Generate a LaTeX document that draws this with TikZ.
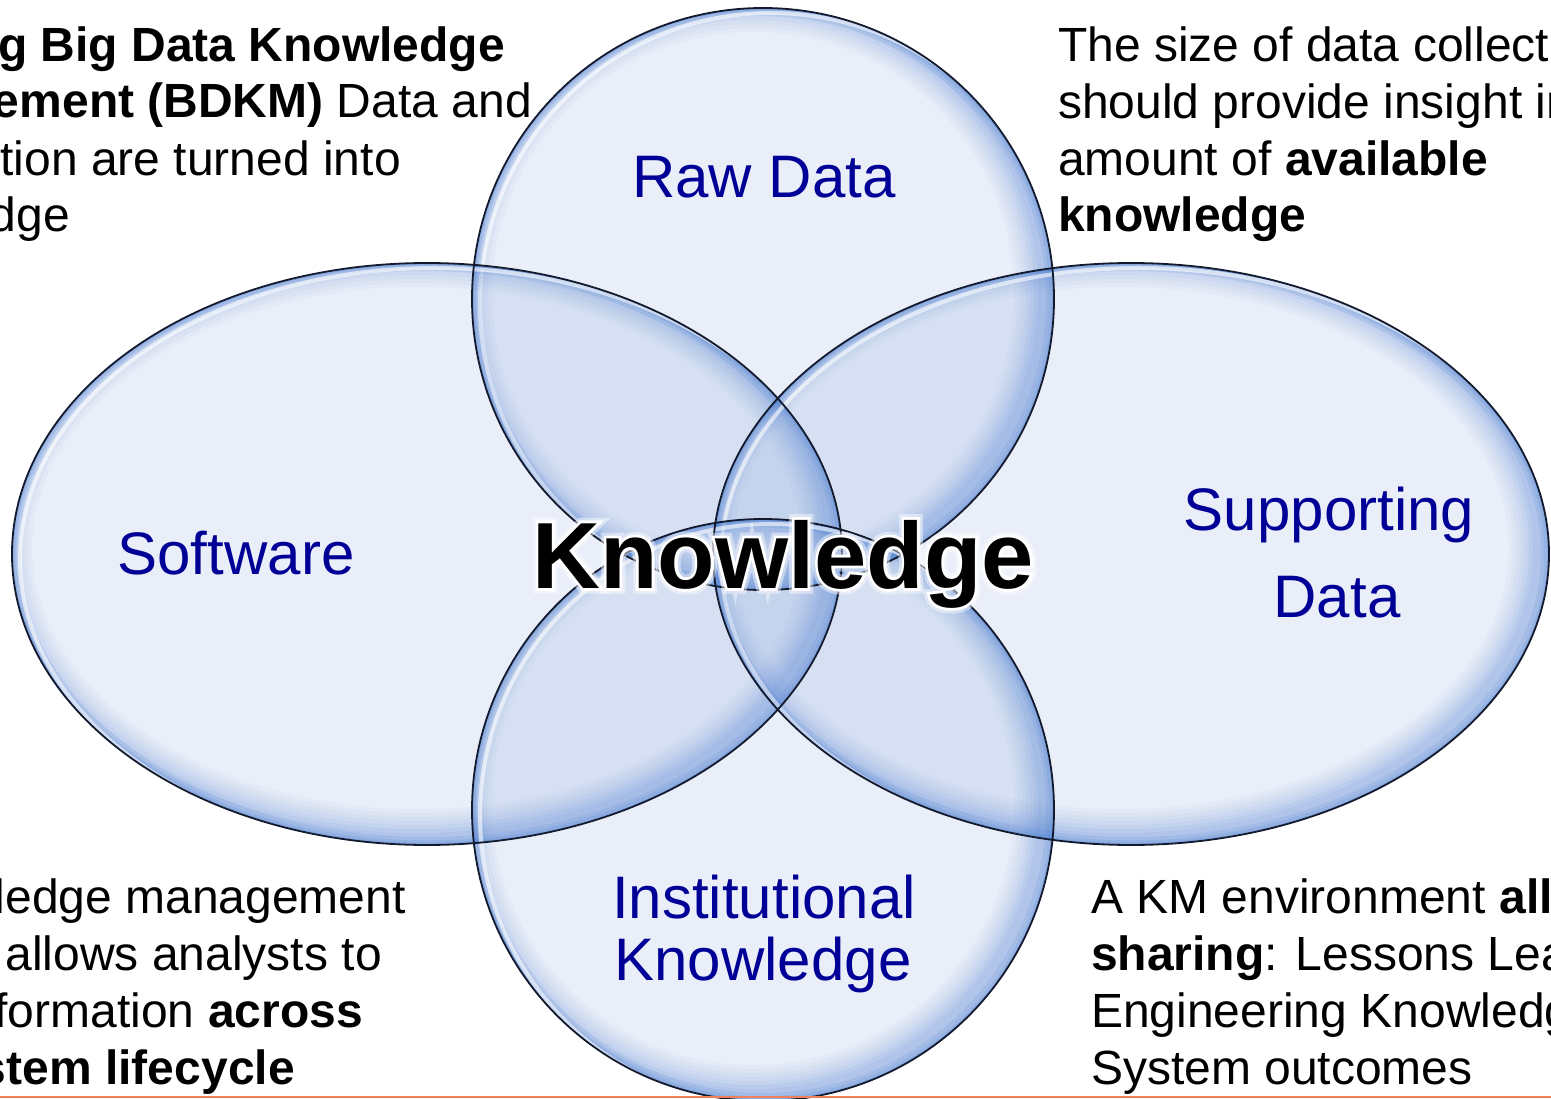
\documentclass[tikz,border=0pt]{standalone}
\usepackage{fontspec}
\setmainfont{Liberation Sans}
\newfontfamily\halofont[FakeBold=6]{Liberation Sans Bold}
\newfontfamily\halofontwide[FakeBold=12]{Liberation Sans Bold}
\definecolor{lblblue}{RGB}{0,0,150}
\definecolor{vennbase}{RGB}{100,140,212}
\definecolor{rimblue}{RGB}{65,120,210}
\definecolor{vennline}{RGB}{20,26,45}
\definecolor{orangeline}{RGB}{240,128,90}
\tikzset{
  vennstroke/.style={draw=vennline, line width=1.8pt},
  lbl/.style={text=lblblue, font=\fontsize{60}{72}\selectfont, inner sep=0pt},
  note/.style={text=black, font=\fontsize{48}{57.5}\selectfont, inner sep=0pt},
  bigword/.style={font=\fontsize{94}{110}\bfseries\selectfont, inner sep=0pt, anchor=base},
}
\newcommand\vennfill[1]{%
  \fill[vennbase, fill opacity=0.14] #1;
  \begin{scope}
    \clip #1;
    \foreach \w/\o in {60/0.035,52/0.04,44/0.045,36/0.05,28/0.06,20/0.07,12/0.08}{
      \draw[rimblue, line width=\w pt, opacity=\o, xshift=-10pt, yshift=6pt] #1;
    }
    \draw[rimblue, line width=16pt, opacity=0.12] #1;
    \draw[rimblue, line width=9pt, opacity=0.16] #1;
    \draw[rimblue, line width=4pt, opacity=0.2] #1;
    \draw[white, line width=4pt, opacity=0.6, xshift=8pt, yshift=-5pt] #1;
  \end{scope}}
\begin{document}
\begin{tikzpicture}[x=1pt,y=-1pt]
\useasboundingbox (0,0) rectangle (1551,1099);
\clip (0,0) rectangle (1551,1099);
\fill[white] (0,0) rectangle (1551,1099);
% fills
\vennfill{(763,299) ellipse [x radius=291pt, y radius=291pt]}
\vennfill{(427,554) ellipse [x radius=415pt, y radius=291pt]}
\vennfill{(1131,554) ellipse [x radius=418pt, y radius=291pt]}
\vennfill{(763,810) ellipse [x radius=291pt, y radius=291pt]}
% outlines
\draw[vennstroke] (763,299) ellipse [x radius=291pt, y radius=291pt];
\draw[vennstroke] (427,554) ellipse [x radius=415pt, y radius=291pt];
\draw[vennstroke] (1131,554) ellipse [x radius=418pt, y radius=291pt];
\draw[vennstroke] (763,810) ellipse [x radius=291pt, y radius=291pt];
% labels
\node[lbl, anchor=base] (raw) at (764,198) {Raw Data};
\node[lbl, anchor=base] (soft) at (236,574) {Software};
\node[lbl, anchor=base] (supA) at (1329,530) {Supporting};
\node[lbl, anchor=base] (supB) at (1337,617) {Data};
\node[lbl, anchor=base] (instA) at (764,918) {Institutional};
\node[lbl, anchor=base] (instB) at (763,980) {Knowledge};
% central word with glow
\node[bigword, text=white, opacity=0.45, font=\fontsize{94}{110}\halofontwide] (khaloB) at (783,588) {Knowledge};
\node[bigword, text=white, font=\fontsize{94}{110}\halofont] (khaloA) at (783,588) {Knowledge};
\node[bigword, text=black] (know) at (783,588) {Knowledge};
% notes top-left
\node[note, anchor=base east] (tlA) at (505,62) {\textbf{g Big Data Knowledge}};
\node[note, anchor=base east] (tlB) at (532,118) {\textbf{ement (BDKM)} Data and};
\node[note, anchor=base east] (tlC) at (401,176) {tion are turned into};
\node[note, anchor=base east] (tlD) at (70,232) {dge};
% notes top-right
\node[note, anchor=base west] (trA) at (1058,62) {The size of data collecte};
\node[note, anchor=base west] (trB) at (1058,119) {should provide insight in};
\node[note, anchor=base west] (trC) at (1058,176) {amount of \textbf{available}};
\node[note, anchor=base west] (trD) at (1058,232) {\textbf{knowledge}};
% notes bottom-left
\node[note, anchor=base east] (blA) at (406,913) {ledge management};
\node[note, anchor=base east] (blB) at (382,970) {allows analysts to};
\node[note, anchor=base east] (blC) at (363,1027) {formation \textbf{across}};
\node[note, anchor=base east] (blD) at (295,1084) {\textbf{stem lifecycle}};
% notes bottom-right
\node[note, anchor=base west] (brA) at (1091,913) {A KM environment \textbf{allo}};
\node[note, anchor=base west] (brB) at (1091,970) {\textbf{sharing}: Lessons Lear};
\node[note, anchor=base west] (brC) at (1091,1027) {Engineering Knowledge};
\node[note, anchor=base west] (brD) at (1091,1084) {System outcomes};
% bottom rule
\coordinate (ruleL) at (0,1096.8);
\coordinate (ruleR) at (1551,1096.8);
\draw[orangeline, line width=2pt] (ruleL) -- (ruleR);
\end{tikzpicture}
\end{document}
